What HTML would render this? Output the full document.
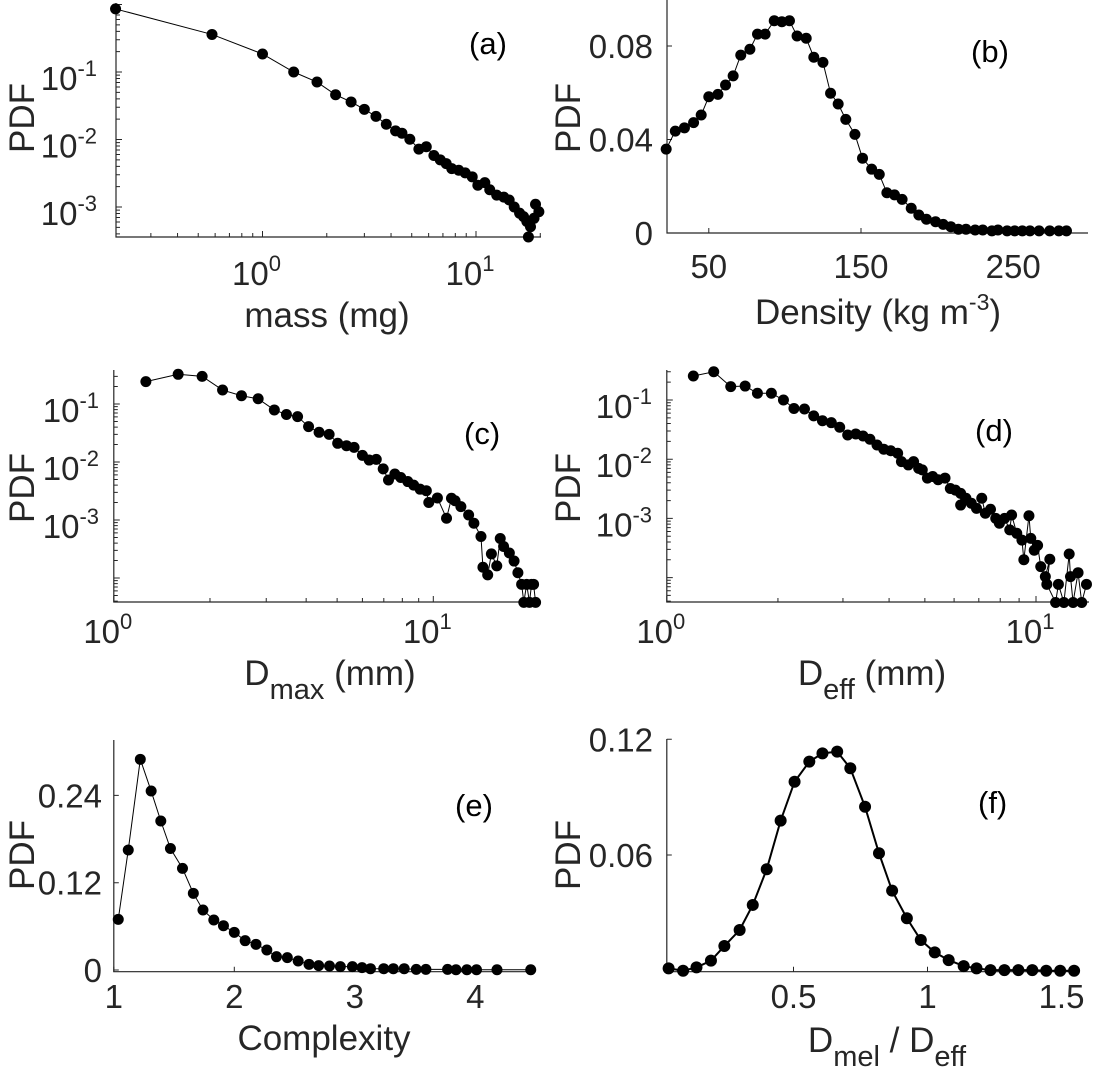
<!DOCTYPE html>
<html><head><meta charset="utf-8"><style>
html,body{margin:0;padding:0;background:#fff}
svg{display:block;font-family:"Liberation Sans",Arial,sans-serif}
</style></head><body>
<svg id="fig" width="1093" height="1075" viewBox="0 0 1093 1075" xmlns="http://www.w3.org/2000/svg"></svg>
<script>
// ---- data (a) mass
const massX=[0.205,0.58,1.0,1.4,1.8,2.2,2.6,3.0,3.4,3.8,4.2,4.5,4.9,5.4,5.85,6.35,6.8,7.25,7.7,8.3,8.9,9.6,10.2,11.0,11.6,12.5,13.5,14.3,15.1,16.0,16.7,17.3,18.0,17.6,18.7,19.0,19.7];
const massY=[0.86,0.36,0.185,0.10,0.071,0.046,0.036,0.028,0.022,0.0168,0.0134,0.0124,0.0101,0.0072,0.0078,0.0058,0.0050,0.0044,0.0037,0.0035,0.0032,0.0028,0.0021,0.0023,0.0018,0.0015,0.0014,0.00127,0.0010,0.00081,0.00072,0.00061,0.00051,0.00036,0.00068,0.0011,0.00085];
// ---- data (b) density
const densX=[22,28,34,40,45,50,56,61,66,71,77,82,87,93,98,103,108,114,119,125,130,135,140,146,151,157,162,167,172,177,183,188,193,199,204,209,214,219,225,230,236,240,246,251,256,261,267,274,280,285];
const densY=[0.0359,0.0436,0.045,0.0472,0.0505,0.0583,0.0593,0.0633,0.0672,0.0761,0.0786,0.0851,0.0851,0.0908,0.0904,0.0908,0.0843,0.0833,0.0752,0.073,0.0598,0.0552,0.0486,0.0422,0.032,0.0273,0.0251,0.0172,0.0163,0.0144,0.0106,0.0077,0.0059,0.0048,0.0037,0.0027,0.0016,0.0016,0.0013,0.0013,0.0009,0.0013,0.0009,0.0009,0.0009,0.0009,0.0009,0.0009,0.0009,0.0009];
// ---- data (c) Dmax
const dmaxX=[1.26,1.59,1.89,2.19,2.51,2.83,3.18,3.47,3.76,4.07,4.39,4.72,5.02,5.35,5.65,6.0,6.3,6.63,6.97,7.24,7.58,7.91,8.32,8.68,9.09,9.51,9.68,10.3,11.0,11.4,11.7,12.2,12.9,13.4,14.1,14.3,14.8,15.2,15.8,16.2,16.6,17.3,17.9,18.4,18.9,19.2,19.6,20.0,20.3,20.6,20.9];
const dmaxY=[0.243,0.325,0.30,0.174,0.139,0.123,0.079,0.066,0.0605,0.0407,0.0325,0.030,0.021,0.0191,0.0179,0.013,0.0108,0.0111,0.0076,0.0049,0.0062,0.0054,0.0046,0.0040,0.0034,0.0032,0.0020,0.0024,0.00107,0.00237,0.00215,0.0017,0.00122,0.00088,0.00052,0.000153,0.000113,0.00026,0.000162,0.00048,0.00035,0.00027,0.000196,0.000123,0.0000778,0.000038,0.0000778,0.000038,0.0000778,0.0000778,0.000038];
// ---- data (d) Deff
const deffX=[1.18,1.34,1.49,1.63,1.76,1.92,2.07,2.21,2.36,2.50,2.64,2.79,2.94,3.09,3.25,3.40,3.55,3.71,3.87,4.04,4.22,4.32,4.51,4.66,4.81,4.92,5.08,5.25,5.43,5.67,5.86,6.05,6.25,6.25,6.46,6.68,6.90,7.13,7.29,7.53,7.78,7.96,8.22,8.49,8.59,8.87,9.16,9.27,9.57,9.68,9.89,10.1,10.3,10.6,10.9,10.7,11.3,11.5,11.9,12.3,12.4,12.6,13.0,13.3,13.7];
const deffY=[0.254,0.30,0.168,0.172,0.13,0.13,0.10,0.072,0.0705,0.054,0.0447,0.0414,0.0346,0.0256,0.0267,0.0247,0.0217,0.0174,0.0147,0.0139,0.0126,0.0091,0.0080,0.0091,0.0070,0.0066,0.0048,0.0051,0.0045,0.0048,0.0032,0.0030,0.00265,0.00168,0.00219,0.0018,0.00148,0.00219,0.00122,0.00143,0.00100,0.00083,0.00100,0.00064,0.00114,0.00056,0.00043,0.0002,0.00111,0.00046,0.00029,0.00035,0.000153,0.000104,0.000204,0.000077,0.000038,0.000077,0.000038,0.00025,0.000104,0.000038,0.000121,0.000038,0.000077];
// ---- data (e) complexity
const cplxX=[1.037,1.12,1.22,1.31,1.39,1.47,1.57,1.66,1.74,1.83,1.91,2.0,2.09,2.18,2.27,2.35,2.44,2.53,2.62,2.70,2.79,2.88,2.98,3.06,3.13,3.24,3.32,3.41,3.51,3.59,3.77,3.84,3.93,4.01,4.18,4.46];
const cplxY=[0.0696,0.165,0.2896,0.246,0.2048,0.167,0.1397,0.1054,0.0825,0.0687,0.0609,0.0518,0.0403,0.0353,0.0275,0.0183,0.017,0.0124,0.0078,0.006,0.0055,0.0046,0.0046,0.0032,0.0018,0.0018,0.0018,0.0018,0.0009,0.0009,0.0009,0.0003,0.0003,0.0003,0.0003,0.0003];
// ---- data (f) Dmel/Deff
const ratioX=[0.034,0.088,0.138,0.192,0.242,0.299,0.348,0.4,0.452,0.504,0.559,0.608,0.663,0.712,0.767,0.819,0.868,0.923,0.975,1.027,1.079,1.135,1.183,1.235,1.287,1.339,1.391,1.443,1.495,1.547];
const ratioY=[0.0012,0.0,0.0017,0.0052,0.0128,0.0211,0.0341,0.0526,0.0778,0.098,0.1084,0.1127,0.1136,0.105,0.085,0.0609,0.0415,0.0272,0.0159,0.0095,0.0055,0.0024,0.0012,0.0003,0.0003,0.0003,0.0003,0.0,0.0,0.0];
// tick labels
const linTicksB=[50,150,250], linYTicksB=[0,0.04,0.08];
const linTicksE=[1,2,3,4], linYTicksE=[0,0.12,0.24];
const linTicksF=[0.5,1,1.5], linYTicksF=[0.06,0.12];

const NS="http://www.w3.org/2000/svg";
const svg=document.getElementById('fig');
function mk(tag,attrs,parent){const e=document.createElementNS(NS,tag);for(const k in attrs)e.setAttribute(k,attrs[k]);(parent||svg).appendChild(e);return e;}
function scale(log,v1,p1,v2,p2){const f=log?(v=>Math.log10(v)):(v=>v);return v=>p1+(f(v)-f(v1))/(f(v2)-f(v1))*(p2-p1);}
const TC="#262626";
const TF=33, SF=22, LF=35;

function panel(c,xs,ys){
  const g=mk('g',{});
  
  
  const sx=scale(c.xlog,...c.xa), sy=scale(c.ylog,...c.ya);
  const ax=mk('path',{d:`M${c.xr[0]},${c.yr[1]} V${c.yr[0]} H${c.xr[1]}`,fill:'none',stroke:'#262626','stroke-width':1.2},g);
  
  
  const tk=[];
  if(c.xlog){
    for(let d=-1;d<=1;d++)for(let m=1;m<10;m++){const v=m*Math.pow(10,d);const p=sx(v);if(p>=c.xr[0]-0.5&&p<=c.xr[1]+0.5)tk.push(`M${p},${c.yr[0]} v${m==1?-6:-4}`);}
  } else c.xt.forEach(v=>tk.push(`M${sx(v)},${c.yr[0]} v-5`));
  if(c.ylog){
    for(let d=-5;d<=0;d++)for(let m=1;m<10;m++){const v=m*Math.pow(10,d);const p=sy(v);if(p<=c.yr[0]+0.5&&p>=c.yr[1]-0.5)tk.push(`M${c.xr[0]},${p} h${m==1?6:4}`);}
  } else c.yt.forEach(v=>tk.push(`M${c.xr[0]},${sy(v)} h5`));
  mk('path',{d:tk.join(' '),stroke:'#262626','stroke-width':1,fill:'none'},g);
  if(c.xlog){c.xe.forEach(e=>{const t=mk('text',{x:sx(Math.pow(10,e))-6,y:c.xlb,'font-size':TF,fill:TC,'text-anchor':'middle'},g);t.textContent='10';const s=mk('tspan',{dy:-14,'font-size':SF},t);s.textContent=String(e);});}
  else c.xt.forEach(v=>{const t=mk('text',{x:sx(v),y:c.xlb,'font-size':TF,fill:TC,'text-anchor':'middle'},g);t.textContent=String(v);});
  if(c.ylog){c.ye.forEach(e=>{const t=mk('text',{x:c.ylr-17,y:sy(Math.pow(10,e))+18,'font-size':TF,fill:TC,'text-anchor':'end'},g);t.textContent='10';const s=mk('tspan',{dy:-14,'font-size':SF},t);s.textContent=String(e);});}
  else c.yt.forEach(v=>{const t=mk('text',{x:c.ylr,y:sy(v)+12,'font-size':TF,fill:TC,'text-anchor':'end'},g);t.textContent=String(v);});
  const yl=mk('text',{x:0,y:0,transform:`translate(${c.ylx},${c.yly}) rotate(-90)`,'font-size':LF,fill:TC,'text-anchor':'middle'},g);
  yl.textContent='PDF';
  
  
  const xl=mk('text',{x:c.xlx,y:c.xly,'font-size':LF,fill:TC,'text-anchor':'middle'},g);
  xl.innerHTML=c.xlabel;
  
  
  const pl=mk('text',{x:c.plx,y:c.ply,'font-size':31,fill:'#000'},g);
  pl.textContent='('+c.id+')';
  
  
  const pts=xs.map((x,i)=>[sx(x),sy(ys[i])]);
  const ln=mk('polyline',{points:pts.map(p=>p.join(',')).join(' '),fill:'none',stroke:'#000','stroke-width':c.lw},g);
  
  
  pts.forEach(p=>{const m=mk('circle',{cx:p[0],cy:p[1],r:c.r,fill:'#000'},g);});
}

panel({id:'a',xlog:true,ylog:true,xa:[1,262.5,10,476],ya:[0.1,72,0.01,139.5],xr:[116,541],yr:[237,3],xe:[0,1],ye:[-1,-2,-3],xlb:285,ylr:114,ylx:34,yly:118,xlx:327,xly:327,xlabel:'mass (mg)',plx:469,ply:54,lw:1,r:5.5},massX,massY);
panel({id:'b',xlog:false,ylog:false,xa:[50,708.8,150,861],ya:[0,233,0.08,46],xr:[667,1088],yr:[233,0],xt:linTicksB,yt:linYTicksB,xlb:278,ylr:653,ylx:580,yly:118,xlx:878,xly:324,xlabel:'Density (kg m<tspan dy="-14" font-size="23">-3</tspan><tspan dy="14">)</tspan>',plx:971,ply:62,lw:1,r:5.5},densX,densY);
panel({id:'c',xlog:true,ylog:true,xa:[1,113.8,10,433.3],ya:[0.1,404,0.01,462],xr:[113.8,539],yr:[602,370],xe:[0,1],ye:[-1,-2,-3],xlb:643,ylr:116,ylx:34,yly:488,xlx:330,xly:685,xlabel:'D<tspan dy="14" font-size="29">max</tspan><tspan dy="-14"> (mm)</tspan>',plx:464,ply:444,lw:1,r:5.5},dmaxX,dmaxY);
panel({id:'d',xlog:true,ylog:true,xa:[1,666.8,10,1036],ya:[0.1,400,0.01,459.2],xr:[666.8,1089],yr:[602,370],xe:[0,1],ye:[-1,-2,-3],xlb:643,ylr:669,ylx:580,yly:488,xlx:872,xly:685,xlabel:'D<tspan dy="14" font-size="29">eff</tspan><tspan dy="-14"> (mm)</tspan>',plx:975,ply:441,lw:1,r:5.5},deffX,deffY);
panel({id:'e',xlog:false,ylog:false,xa:[1,113.8,2,234.3],ya:[0,970,0.12,882.7],xr:[113.8,532],yr:[971.7,740],xt:linTicksE,yt:linYTicksE,xlb:1008,ylr:102,ylx:34,yly:855,xlx:324,xly:1050,xlabel:'Complexity',plx:455,ply:816,lw:1,r:5.5},cplxX,cplxY);
panel({id:'f',xlog:false,ylog:false,xa:[0.5,793.5,1,927.5],ya:[0,970.7,0.06,855],xr:[666.8,1080],yr:[971.7,739],xt:linTicksF,yt:linYTicksF,xlb:1008,ylr:653,ylx:580,yly:855,xlx:887,xly:1052,xlabel:'D<tspan dy="14" font-size="29">mel</tspan><tspan dy="-14"> / D</tspan><tspan dy="14" font-size="29">eff</tspan>',plx:978,ply:813,lw:2,r:6},ratioX,ratioY);
</script>
</body></html>
